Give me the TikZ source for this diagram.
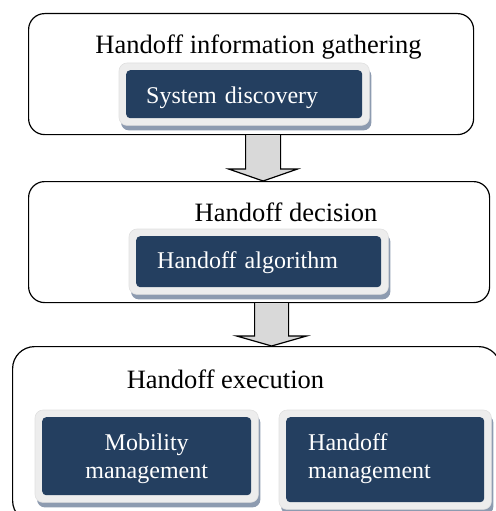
\documentclass[tikz,border=0pt]{standalone}
\usepackage{fontspec}
\setmainfont{Liberation Serif}
\usepackage{tikz}
\usetikzlibrary{positioning}
\usetikzlibrary{calc,fit}
\usetikzlibrary{shadows,backgrounds}
\definecolor{navy}{HTML}{243F60}
\definecolor{framegray}{HTML}{EDEDED}
\definecolor{shadowblue}{HTML}{8D9BB0}
\definecolor{arrowgray}{HTML}{D9D9D9}
\tikzset{
    stage/.style={draw=black, line width=1.2pt, rounded corners=16pt,
        anchor=north west, inner sep=0pt},
    heading/.style={anchor=base, inner sep=0pt,
        font=\fontsize{26.5pt}{30pt}\selectfont},
    task/.style={fill=navy, rounded corners=4pt, text=white, anchor=north west,
        inner ysep=0pt, align=left, font=\fontsize{24pt}{28pt}\selectfont},
    plate/.style={fill=framegray, draw=black!12, line width=0.6pt, rounded corners=8pt,
        inner sep=7pt, drop shadow={shadow xshift=2pt, shadow yshift=-5pt,
        fill=shadowblue, opacity=1}},
    bigarrow/.style={draw=black, fill=arrowgray, line width=1.2pt, line join=miter},
}
\begin{document}
\begin{tikzpicture}[x=1pt, y=-1pt]
\useasboundingbox (0,0) rectangle (495,511);
	% the three stages
	\node[stage, minimum width=445pt, minimum height=121pt] (gather) at (28,13) {};
	\node[stage, minimum width=461pt, minimum height=121pt] (decide) at (28,181) {};
	\node[stage, minimum width=488pt, minimum height=176pt, rounded corners=22pt] (execute) at (12,346) {};
	\node[heading] (gathertitle) at (258.5,53) {Handoff information gathering};
	\node[heading] (decidetitle) at (286,221) {Handoff decision};
	\node[heading] (executetitle) at (225.5,388) {Handoff execution};
	% boxes inside the stages
	\node[task, text height=33pt, text depth=15pt, text width=196pt, inner xsep=20pt] (discovery) at (126,70) {System discovery};
	\node[task, text height=32pt, text depth=19pt, text width=203pt, inner xsep=21pt] (algorithm) at (136,236) {Handoff algorithm};
	\node[task, text height=33pt, text depth=45pt, text width=179pt, inner xsep=15pt, align=center] (mobility) at (42,417) {Mobility\\management};
	\node[task, text height=33pt, text depth=52pt, text width=154pt, inner xsep=22pt] (handoffmgmt) at (286,417) {Handoff\\management};
	\begin{scope}[on background layer]
	\node[plate, fit=(discovery)] (discoveryplate) {};
	\node[plate, fit=(algorithm)] (algorithmplate) {};
	\node[plate, fit=(mobility)] (mobilityplate) {};
	\node[plate, fit=(handoffmgmt)] (handoffmgmtplate) {};
	\end{scope}
	% arrows between the stages
	\coordinate (s1) at ($(gather.south)+(12,0)$);
	\coordinate (t1) at (s1 |- decide.north);
	\draw[bigarrow] ($(s1)+(-17.5,0)$) -- ($(t1)+(-17.5,-12)$) -- ($(t1)+(-34.5,-12)$)
		-- (t1) -- ($(t1)+(34.5,-12)$) -- ($(t1)+(17.5,-12)$) -- ($(s1)+(17.5,0)$);
	\coordinate (s2) at ($(decide.south)+(12.5,0)$);
	\coordinate (t2) at (s2 |- execute.north);
	\draw[bigarrow] ($(s2)+(-17,0)$) -- ($(t2)+(-17,-10)$) -- ($(t2)+(-35,-10)$)
		-- (t2) -- ($(t2)+(35,-10)$) -- ($(t2)+(17,-10)$) -- ($(s2)+(17,0)$);
\end{tikzpicture}
\end{document}
